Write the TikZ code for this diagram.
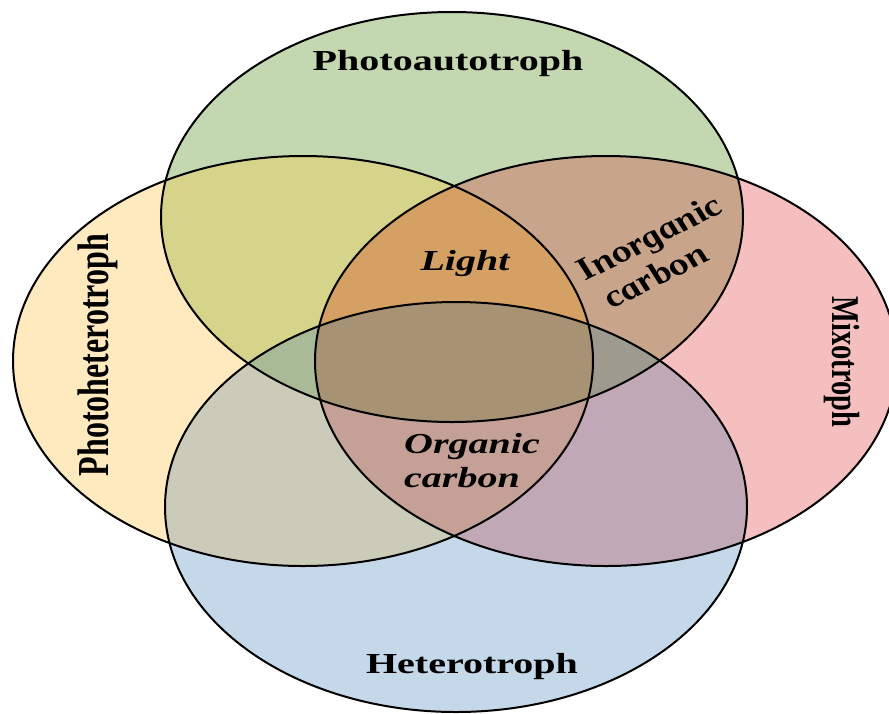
\documentclass[tikz,border=0pt]{standalone}
\usepackage{fontspec}
\setmainfont{Liberation Serif}
\usepackage{graphicx}
\definecolor{cG}{RGB}{195,215,176}
\definecolor{cY}{RGB}{255,234,192}
\definecolor{cP}{RGB}{244,191,190}
\definecolor{cB}{RGB}{197,216,234}
\definecolor{cGY}{RGB}{214,211,138}
\definecolor{cGP}{RGB}{200,165,138}
\definecolor{cGYP}{RGB}{213,160,100}
\definecolor{cYB}{RGB}{202,203,184}
\definecolor{cPB}{RGB}{193,168,183}
\definecolor{cYPB}{RGB}{196,160,150}
\definecolor{cGYB}{RGB}{168,186,150}
\definecolor{cGPB}{RGB}{158,154,144}
\definecolor{cGYPB}{RGB}{168,146,116}
\newcommand\hstretch[1]{\scalebox{1.38}[1]{#1}}
\begin{document}
\begin{tikzpicture}[x=1pt,y=-1pt,
  outline/.style={draw=black, line width=2pt},
  lab/.style={inner sep=0pt, text=black}]
\useasboundingbox (0,0) rectangle (889,713);
\def\Gp{(452,217) ellipse [x radius=291pt, y radius=205pt]}
\def\Yp{(303,361) ellipse [x radius=290pt, y radius=205pt]}
\def\Pp{(606,361) ellipse [x radius=291pt, y radius=205pt]}
\def\Bp{(456,507) ellipse [x radius=291pt, y radius=205pt]}
% single sets
\fill[cG] \Gp;
\fill[cY] \Yp;
\fill[cP] \Pp;
\fill[cB] \Bp;
% pairs
\begin{scope}\clip \Gp; \fill[cGY] \Yp; \end{scope}
\begin{scope}\clip \Gp; \fill[cGP] \Pp; \end{scope}
\begin{scope}\clip \Yp; \fill[cYB] \Bp; \end{scope}
\begin{scope}\clip \Pp; \fill[cPB] \Bp; \end{scope}
% triples
\begin{scope}\clip \Gp; \clip \Yp; \fill[cGYP] \Pp; \end{scope}
\begin{scope}\clip \Yp; \clip \Pp; \fill[cYPB] \Bp; \end{scope}
\begin{scope}\clip \Gp; \clip \Yp; \fill[cGYB] \Bp; \end{scope}
\begin{scope}\clip \Gp; \clip \Pp; \fill[cGPB] \Bp; \end{scope}
% all four
\begin{scope}\clip \Gp; \clip \Yp; \clip \Pp; \fill[cGYPB] \Bp; \end{scope}
% outlines
\draw[outline] \Gp;
\draw[outline] \Yp;
\draw[outline] \Pp;
\draw[outline] \Bp;
% labels
\node[lab, font=\fontsize{29}{34}\selectfont\bfseries] (photoauto) at (448,64) {\hstretch{Photoautotroph}};
\node[lab, font=\fontsize{29}{34}\selectfont\bfseries] (hetero) at (472,667) {\hstretch{Heterotroph}};
\node[lab, font=\fontsize{32}{36}\selectfont\bfseries] (photohetero) at (97.5,355) {\hstretch{\rotatebox{90}{Photoheterotroph}}};
\node[lab, font=\fontsize{28.5}{32}\selectfont\bfseries] (mixo) at (842,362) {\hstretch{\rotatebox{-90}{Mixotroph}}};
\node[lab, font=\fontsize{29}{34}\selectfont\bfseries\itshape] (light) at (465,264) {\hstretch{Light}};
\node[lab, font=\fontsize{30}{34}\selectfont\bfseries\itshape] (inorg) at (665,254) {\hstretch{\rotatebox{34.6}{\begin{tabular}{@{}l@{}}Inorganic\\carbon\end{tabular}}}};
\node[lab, font=\fontsize{29}{34}\selectfont\bfseries\itshape, anchor=north west] (org) at (404,429) {\hstretch{\begin{tabular}{@{}l@{}}Organic\\carbon\end{tabular}}};
\end{tikzpicture}
\end{document}
